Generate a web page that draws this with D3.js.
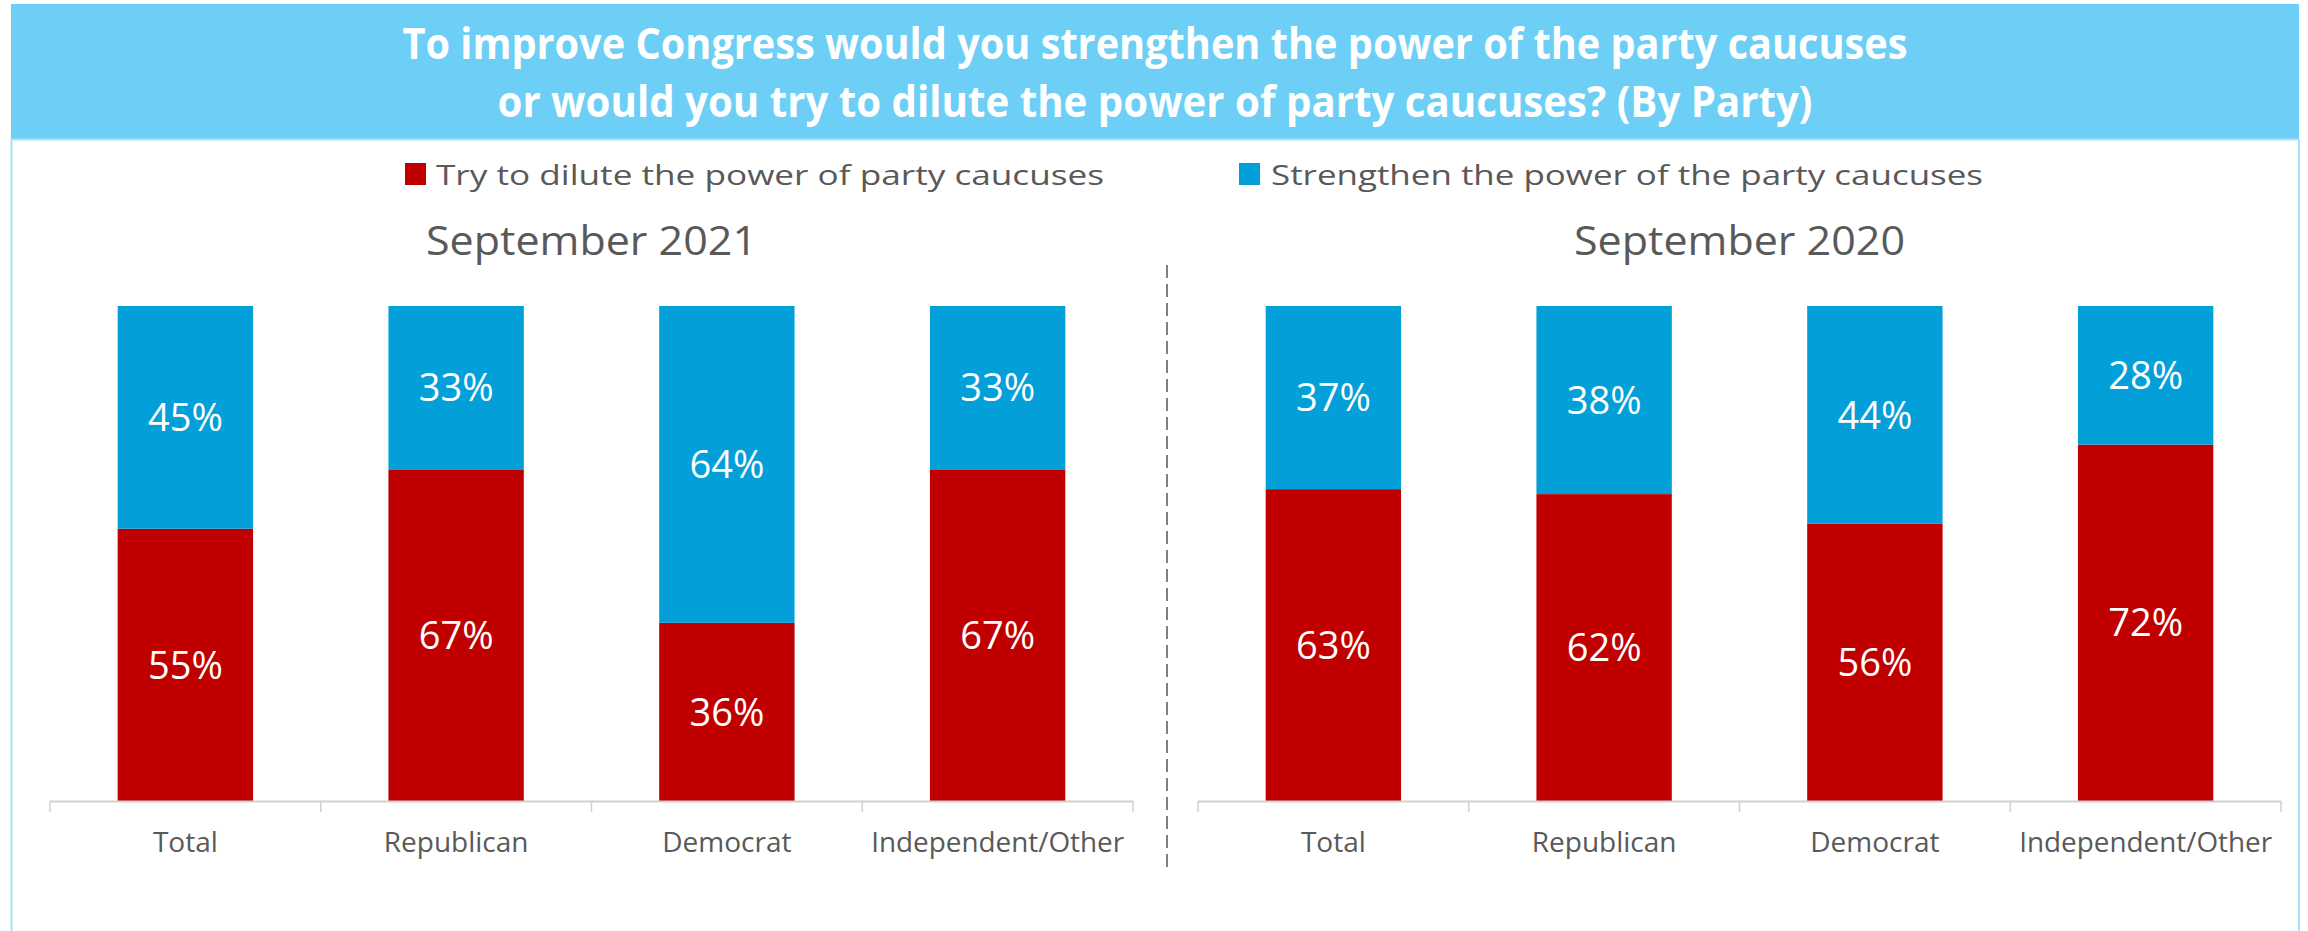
<!DOCTYPE html>
<html><head><meta charset="utf-8">
<script src="https://cdn.jsdelivr.net/npm/d3@7"></script>
<style>html,body{margin:0;padding:0;background:#fff;overflow:hidden}</style>
</head><body>
<svg id="chart" width="2308" height="931"></svg>
<script>
// ---- data ----
const titleLines = ["To improve Congress would you strengthen the power of the party caucuses",
                    "or would you try to dilute the power of party caucuses? (By Party)"];
const seriesNames = ["Try to dilute the power of party caucuses", "Strengthen the power of the party caucuses"];
const categories = ["Total", "Republican", "Democrat", "Independent/Other"];
const panelTitles = ["September 2021", "September 2020"];
const dilute2021 = [55, 67, 36, 67];
const strengthen2021 = [45, 33, 64, 33];
const dilute2020 = [63, 62, 56, 72];
const strengthen2020 = [37, 38, 44, 28];

const W = 2308, H = 931;
const svg = d3.select("#chart");
const FONT = "'Open Sans', 'Noto Sans', sans-serif";
const RED = "#c00000", BLUE = "#029fd8", GREY = "#595959";

function fit(t, w) {
  const n = t.node().getComputedTextLength();
  if (Math.abs(n - w) > 1) t.attr("textLength", w).attr("lengthAdjust", "spacingAndGlyphs");
  return t;
}

// frame
svg.append("rect").attr("x", 11).attr("y", 4).attr("width", 2288).attr("height", 135).attr("fill", "#6dcff6");
svg.append("line").attr("x1", 11).attr("x2", 2288 + 11).attr("y1", 139.5).attr("y2", 139.5).attr("stroke", "#a9e1f8").attr("stroke-width", 2);
svg.append("line").attr("x1", 11.5).attr("x2", 11.5).attr("y1", 139).attr("y2", H).attr("stroke", "#a9e1f8").attr("stroke-width", 2);
svg.append("line").attr("x1", 2299).attr("x2", 2299).attr("y1", 139).attr("y2", H).attr("stroke", "#a9e1f8").attr("stroke-width", 2);

// title
const titleY = [59, 117], titleW = [1505, 1315];
titleLines.forEach((s, i) => {
  const t = svg.append("text").attr("x", 1155).attr("y", titleY[i]).attr("text-anchor", "middle")
    .attr("font-family", FONT).attr("font-weight", "bold").attr("font-size", 43).attr("fill", "#fff").text(s);
  fit(t, titleW[i]);
});

// legend
const legend = [{x: 405, tx: 436, w: 668}, {x: 1239, tx: 1271, w: 712}];
const colors = [RED, BLUE];
seriesNames.forEach((s, i) => {
  svg.append("rect").attr("x", legend[i].x).attr("y", 163).attr("width", 21).attr("height", 22).attr("fill", colors[i]);
  const t = svg.append("text").attr("x", legend[i].tx).attr("y", 185).attr("font-family", FONT)
    .attr("font-size", 28).attr("fill", GREY).text(s);
  fit(t, legend[i].w);
});

// panels
const y = d3.scaleLinear().domain([0, 100]).range([801, 306]);
const panels = [
  {range: [50, 1133], dilute: dilute2021, strengthen: strengthen2021, title: panelTitles[0]},
  {range: [1198, 2281], dilute: dilute2020, strengthen: strengthen2020, title: panelTitles[1]}
];
panels.forEach(p => {
  const x = d3.scaleBand().domain(categories).range(p.range).paddingInner(0.5).paddingOuter(0.25);
  const g = svg.append("g");
  const cx = (p.range[0] + p.range[1]) / 2;
  fit(g.append("text").attr("x", cx).attr("y", 255).attr("text-anchor", "middle").attr("font-family", FONT)
    .attr("font-size", 40).attr("fill", GREY).text(p.title), 331);

  const rows = categories.map((c, i) => ({c, d: p.dilute[i], s: p.strengthen[i]}));
  // dilute (bottom)
  g.selectAll(".bd").data(rows).join("rect").attr("x", d => x(d.c)).attr("width", x.bandwidth())
    .attr("y", d => y(d.d)).attr("height", d => y(0) - y(d.d)).attr("fill", RED);
  g.selectAll(".bs").data(rows).join("rect").attr("x", d => x(d.c)).attr("width", x.bandwidth())
    .attr("y", d => y(d.d + d.s)).attr("height", d => y(d.d) - y(d.d + d.s)).attr("fill", BLUE);
  // labels
  g.selectAll(".ld").data(rows).join("text").attr("x", d => x(d.c) + x.bandwidth() / 2)
    .attr("y", d => (y(0) + y(d.d)) / 2).attr("dy", "0.36em").attr("text-anchor", "middle")
    .attr("font-family", FONT).attr("font-size", 38).attr("fill", "#fff").text(d => d.d + "%");
  g.selectAll(".ls").data(rows).join("text").attr("x", d => x(d.c) + x.bandwidth() / 2)
    .attr("y", d => (y(d.d) + y(d.d + d.s)) / 2).attr("dy", "0.36em").attr("text-anchor", "middle")
    .attr("font-family", FONT).attr("font-size", 38).attr("fill", "#fff").text(d => d.s + "%");

  // axis
  const ax = g.append("g").attr("transform", `translate(0,${y(0)})`);
  ax.append("line").attr("x1", p.range[0]).attr("x2", p.range[1]).attr("y1", 0.5).attr("y2", 0.5)
    .attr("stroke", "#d0d0d0").attr("stroke-width", 2);
  const bounds = categories.map(c => x(c) - x.step() * x.paddingInner() / 2);
  bounds[0] = p.range[0];
  bounds.push(p.range[1]);
  ax.selectAll(".tk").data(bounds).join("line").attr("x1", d => d).attr("x2", d => d)
    .attr("y1", 0).attr("y2", 11).attr("stroke", "#d0d0d0").attr("stroke-width", 1.5);
  ax.selectAll(".cl").data(categories).join("text").attr("x", c => x(c) + x.bandwidth() / 2)
    .attr("y", 51).attr("text-anchor", "middle").attr("font-family", FONT).attr("font-size", 28)
    .attr("fill", GREY).text(c => c)
    .each(function(c) { if (c === "Independent/Other") fit(d3.select(this), 253); });
});

// divider
svg.append("line").attr("x1", 1167).attr("x2", 1167).attr("y1", 265).attr("y2", 873)
  .attr("stroke", "#7f7f7f").attr("stroke-width", 2).attr("stroke-dasharray", "13,6");
</script>
</body></html>
